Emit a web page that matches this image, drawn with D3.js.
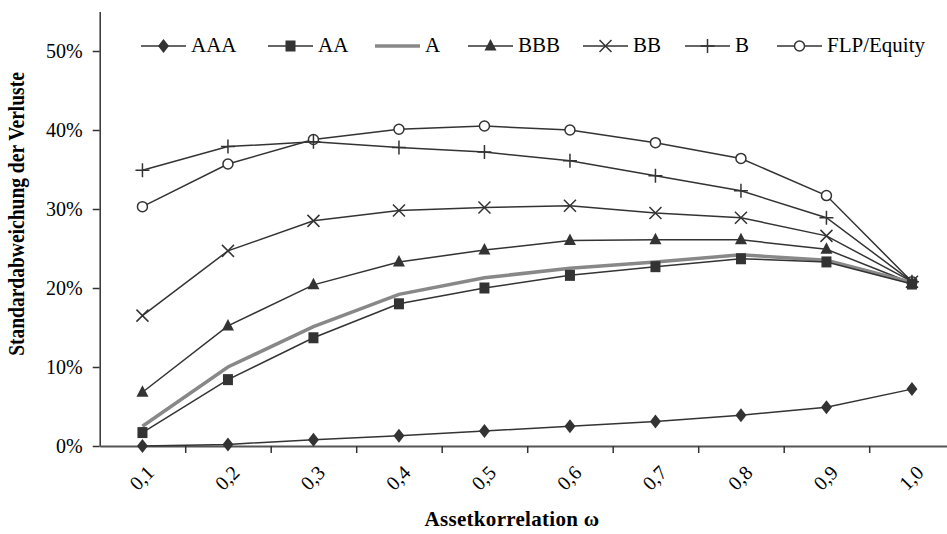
<!DOCTYPE html>
<html><head><meta charset="utf-8">
<script src="https://cdn.jsdelivr.net/npm/d3@7"></script>
<style>
html,body{margin:0;padding:0;background:#fff;}
svg{display:block;font-family:"Liberation Serif","Times New Roman",serif;}
</style></head>
<body><svg id="c" width="947" height="534"></svg>
<script>
const categories = ["0,1","0,2","0,3","0,4","0,5","0,6","0,7","0,8","0,9","1,0"];
const AAA = [0.000,0.002,0.008,0.013,0.019,0.025,0.031,0.039,0.049,0.072];
const AA  = [0.017,0.084,0.137,0.180,0.200,0.216,0.227,0.237,0.233,0.205];
const A   = [0.025,0.100,0.151,0.192,0.213,0.225,0.233,0.242,0.235,0.207];
const BBB = [0.068,0.152,0.204,0.233,0.248,0.260,0.261,0.261,0.249,0.206];
const BB  = [0.165,0.247,0.285,0.298,0.302,0.304,0.295,0.289,0.266,0.208];
const B   = [0.349,0.379,0.385,0.378,0.372,0.361,0.342,0.323,0.289,0.208];
const FLP = [0.303,0.357,0.388,0.401,0.405,0.400,0.384,0.364,0.317,0.208];
const yTicks = [0,0.1,0.2,0.3,0.4,0.5];
const seriesNames = ["AAA","AA","A","BBB","BB","B","FLP/Equity"];

const series = [
  {name:seriesNames[0], values:AAA, marker:"diamond"},
  {name:seriesNames[1], values:AA, marker:"square"},
  {name:seriesNames[2], values:A, marker:"none"},
  {name:seriesNames[3], values:BBB, marker:"triangle"},
  {name:seriesNames[4], values:BB, marker:"x"},
  {name:seriesNames[5], values:B, marker:"plus"},
  {name:seriesNames[6], values:FLP, marker:"circle"}
];

const svg = d3.select("#c");
const dark = "#333";
const x0 = 99.7, bw = 85.5;
const x = d3.scaleBand().domain(categories).range([x0, x0 + bw*categories.length]).padding(0);
const xb = d3.scaleLinear().domain([0, categories.length]).range([x0, x0 + bw*categories.length]);
const y = d3.scaleLinear().domain([0, 0.55]).range([446, 11.5]);
const cx = c => x(c) + x.bandwidth()/2;

// y axis
const yAxis = svg.append("g").attr("transform",`translate(${x0},0)`)
  .call(d3.axisLeft(y).tickValues(yTicks).tickFormat(d3.format(".0%")).tickSize(7).tickSizeOuter(0).tickPadding(10));
yAxis.select(".domain").attr("stroke",dark).attr("stroke-width",1.5);
yAxis.selectAll(".tick line").attr("stroke",dark).attr("stroke-width",1.5);
yAxis.selectAll(".tick text").attr("font-size",20).attr("fill","#000").attr("font-family","Liberation Serif");

// x axis boundary ticks
const xAxis = svg.append("g").attr("transform","translate(0,446)")
  .call(d3.axisBottom(xb).tickValues(d3.range(1,categories.length)).tickFormat("").tickSize(7).tickSizeOuter(0));
xAxis.select(".domain").attr("stroke","#555").attr("stroke-width",2);
xAxis.selectAll(".tick line").attr("stroke",dark).attr("stroke-width",1.5);

// x labels
svg.append("g").selectAll("text").data(categories).enter().append("text")
  .attr("transform", d => `translate(${cx(d)+3},464) rotate(-45)`)
  .attr("text-anchor","end").attr("dy","0.7em")
  .attr("font-size",20).attr("fill","#000").text(d=>d);

// titles
svg.append("text").attr("transform","translate(24,214) rotate(-90) scale(0.93,1.06)")
  .attr("text-anchor","middle").attr("font-weight","bold").attr("font-size",21).attr("fill","#000")
  .text("Standardabweichung der Verluste");
svg.append("text").attr("x",512).attr("y",526).attr("text-anchor","middle")
  .attr("font-weight","bold").attr("font-size",21).attr("fill","#000").attr("letter-spacing","0.3")
  .text("Assetkorrelation ω");

const line = d3.line().x((d,i)=>cx(categories[i])).y(d=>y(d));

function drawMarker(g, type, px, py) {
  if (type==="diamond") g.append("path").attr("d",`M${px},${py-7}L${px+5.5},${py}L${px},${py+7}L${px-5.5},${py}Z`).attr("fill",dark);
  else if (type==="square") g.append("rect").attr("x",px-5).attr("y",py-5.5).attr("width",10).attr("height",11).attr("fill",dark);
  else if (type==="triangle") g.append("path").attr("d",`M${px},${py-7}L${px+6},${py+4.5}L${px-6},${py+4.5}Z`).attr("fill",dark);
  else if (type==="x") g.append("path").attr("d",`M${px-6},${py-6}L${px+6},${py+6}M${px+6},${py-6}L${px-6},${py+6}`).attr("stroke",dark).attr("stroke-width",1.5);
  else if (type==="plus") g.append("path").attr("d",`M${px-7},${py}L${px+7},${py}M${px},${py-7}L${px},${py+7}`).attr("stroke",dark).attr("stroke-width",1.5);
  else if (type==="circle") g.append("circle").attr("cx",px).attr("cy",py).attr("r",5).attr("fill","#fff").attr("stroke",dark).attr("stroke-width",1.5);
}

const plot = svg.append("g");
series.slice().reverse().forEach(s=>{
  const g = plot.append("g");
  g.append("path").datum(s.values).attr("d",line).attr("fill","none")
    .attr("stroke", s.marker==="none" ? "#888" : dark)
    .attr("stroke-width", s.marker==="none" ? 3.5 : 1.5);
  s.values.forEach((v,i)=>drawMarker(g, s.marker, cx(categories[i]), y(v)));
});

// legend
const legX = [141, 268, 375, 468, 583, 685, 777];
const leg = svg.append("g");
series.forEach((s,i)=>{
  const lx = legX[i], ly = 46;
  const g = leg.append("g");
  g.append("line").attr("x1",lx).attr("x2",lx+45).attr("y1",ly).attr("y2",ly)
    .attr("stroke", s.marker==="none" ? "#888" : dark).attr("stroke-width", s.marker==="none" ? 3.5 : 1.5);
  drawMarker(g, s.marker, lx+22.5, ly);
  g.append("text").attr("x",lx+50).attr("y",ly+6).attr("font-size",21).attr("fill","#000").text(s.name);
});
</script></body></html>
